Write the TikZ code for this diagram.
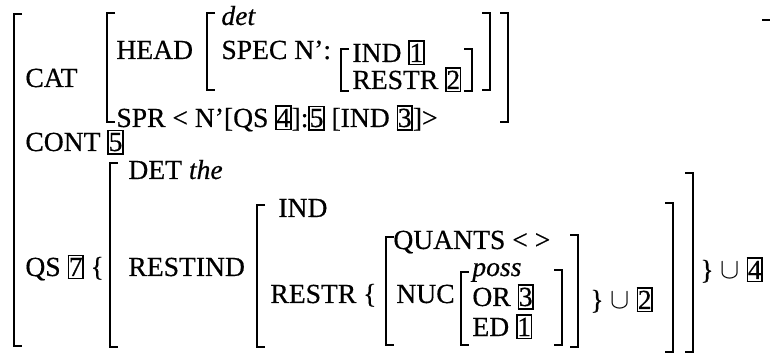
\documentclass[tikz,border=0pt]{standalone}
\usepackage{fontspec}
\setmainfont{Liberation Serif}[FakeBold=0.5]
\newcommand{\tg}[1]{{\setlength{\fboxsep}{1pt}\setlength{\fboxrule}{0.7pt}\fbox{\kern-1.1pt#1\kern-1.1pt}}}
\tikzset{
  lbl/.style={anchor=base west, inner sep=0pt, font=\fontsize{13.8}{16}\selectfont},
  brk/.style={line width=1.3pt},
}
\begin{document}
\begin{tikzpicture}[x=0.5pt,y=-0.5pt]
  \useasboundingbox (0,0) rectangle (770,357);

  % outer brackets
  \draw[brk] (22,14) -- (14,14) -- (14,346) -- (22,346);
  \draw[brk] (762,20) -- (770,20);

  % CAT part
  \node[lbl] (cat) at (25,87) {CAT};
  \draw[brk] (115,13) -- (107,13) -- (107,122) -- (115,122);
  \draw[brk] (500,13) -- (508,13) -- (508,122) -- (500,122);
  \node[lbl] (head) at (116,59) {HEAD};
  \draw[brk] (215,13) -- (207,13) -- (207,90) -- (215,90);
  \draw[brk] (482,13) -- (490,13) -- (490,90) -- (482,90);
  \node[lbl] (det) at (221,25) {\itshape det};
  \node[lbl] (spec) at (221,59) {SPEC N':};
  \draw[brk] (349,49) -- (341,49) -- (341,91) -- (349,91);
  \draw[brk] (464,49) -- (472,49) -- (472,91) -- (464,91);
  \node[lbl] (ind) at (352,62) {IND \tg{1}};
  \node[lbl] (restr) at (352,89) {RESTR \tg{2}};
  \node[lbl] (spr) at (116,127) {SPR < N'[QS \tg{4}]:\tg{5} [IND \tg{3}]>};

  % CONT
  \node[lbl] (cont) at (25,151) {CONT \tg{5}};

  % QS part
  \node[lbl] (qs) at (25,276) {QS \tg{7} \{};
  \draw[brk] (118,163) -- (110,163) -- (110,347) -- (118,347);
  \draw[brk] (685,173) -- (693,173) -- (693,352) -- (685,352);
  \node[lbl] (dt) at (128,179) {DET \itshape the};
  \node[lbl] (restind) at (128,276) {RESTIND};
  \draw[brk] (265,205) -- (257,205) -- (257,347) -- (265,347);
  \draw[brk] (665,203) -- (673,203) -- (673,352) -- (665,352);
  \node[lbl] (ind2) at (278,217) {IND};
  \node[lbl] (restr2) at (270,303) {RESTR \{};
  \draw[brk] (394,237) -- (386,237) -- (386,345) -- (394,345);
  \draw[brk] (570,235) -- (578,235) -- (578,347) -- (570,347);
  \node[lbl] (quants) at (393,249) {QUANTS < >};
  \node[lbl] (nuc) at (396,303) {NUC};
  \draw[brk] (469,272) -- (461,272) -- (461,345) -- (469,345);
  \draw[brk] (554,270) -- (562,270) -- (562,345) -- (554,345);
  \node[lbl] (poss) at (472,276) {\itshape poss};
  \node[lbl] (or) at (472,306) {OR \tg{3}};
  \node[lbl] (ed) at (472,336) {ED \tg{1}};
  \node[lbl] (un2) at (590,309) {\} $\cup$ \tg{2}};
  \node[lbl] (un4) at (700,279) {\} $\cup$ \tg{4}};
\end{tikzpicture}
\end{document}
